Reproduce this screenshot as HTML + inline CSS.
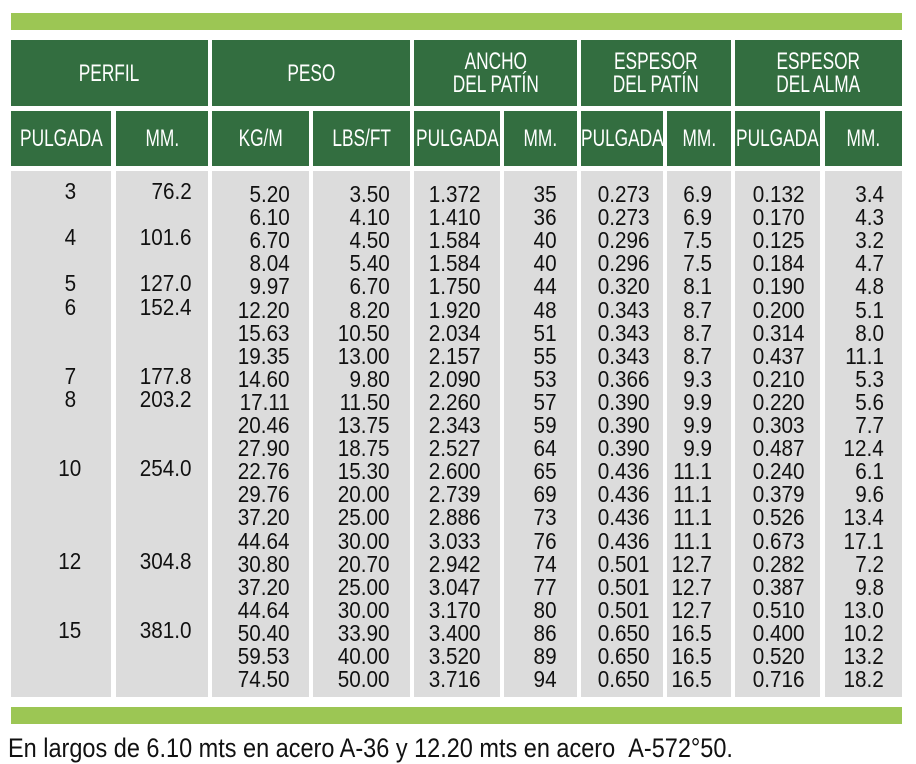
<!DOCTYPE html>
<html><head><meta charset="utf-8"><style>
body{margin:0;width:916px;height:762px;background:#fff;position:relative;overflow:hidden;font-family:"Liberation Sans",sans-serif}
.b{position:absolute}
.g{background:#336e40}
.l{background:#9cc654}
.c{background:#dcdcdc}
.h{position:absolute;color:#fff;font-size:24px;text-align:center;line-height:23px;display:flex;align-items:center;justify-content:center}
.h span{display:inline-block;transform:scaleX(.72)}
.t{position:absolute;font-size:23px;line-height:23px;color:#111;white-space:nowrap}
.t span{display:inline-block;transform:scaleX(.9)}
.r span{transform-origin:right center}
.ft{position:absolute;left:8px;top:733px;font-size:27px;color:#111;white-space:nowrap;transform:scaleX(.87);transform-origin:left center}
</style></head><body>
<div class="b l" style="left:11px;top:13px;width:891px;height:17px"></div>
<div class="b l" style="left:11px;top:707px;width:891px;height:17px"></div>
<div id="hdr"></div>
<div id="body"></div>
<div class="ft">En largos de 6.10 mts en acero A-36 y 12.20 mts en acero &nbsp;A-572°50.</div>
<script>
var cols=[[11,111],[116,208],[212,309],[313,410],[414,500],[504,577],[581,663],[667,731],[735,820],[825,902]];
var H='';
var top1=[[0,1,'PERFIL'],[2,3,'PESO'],[4,5,'ANCHO<br>DEL PATÍN'],[6,7,'ESPESOR<br>DEL PATÍN'],[8,9,'ESPESOR<br>DEL ALMA']];
top1.forEach(function(a){var x=cols[a[0]][0],w=cols[a[1]][1]-x;H+='<div class="b g" style="left:'+x+'px;top:40px;width:'+w+'px;height:66px"></div><div class="h" style="left:'+x+'px;top:40px;width:'+w+'px;height:66px"><span>'+a[2]+'</span></div>';});
var sub=['PULGADA','MM.','KG/M','LBS/FT','PULGADA','MM.','PULGADA','MM.','PULGADA','MM.'];
cols.forEach(function(c,i){var w=c[1]-c[0];H+='<div class="b g" style="left:'+c[0]+'px;top:111px;width:'+w+'px;height:55px"></div><div class="h" style="left:'+c[0]+'px;top:111px;width:'+w+'px;height:55px"><span>'+sub[i]+'</span></div><div class="b c" style="left:'+c[0]+'px;top:171px;width:'+w+'px;height:526px"></div>';});
document.getElementById('hdr').innerHTML=H;
var data=`5.20 3.50 1.372 35 0.273 6.9 0.132 3.4
6.10 4.10 1.410 36 0.273 6.9 0.170 4.3
6.70 4.50 1.584 40 0.296 7.5 0.125 3.2
8.04 5.40 1.584 40 0.296 7.5 0.184 4.7
9.97 6.70 1.750 44 0.320 8.1 0.190 4.8
12.20 8.20 1.920 48 0.343 8.7 0.200 5.1
15.63 10.50 2.034 51 0.343 8.7 0.314 8.0
19.35 13.00 2.157 55 0.343 8.7 0.437 11.1
14.60 9.80 2.090 53 0.366 9.3 0.210 5.3
17.11 11.50 2.260 57 0.390 9.9 0.220 5.6
20.46 13.75 2.343 59 0.390 9.9 0.303 7.7
27.90 18.75 2.527 64 0.390 9.9 0.487 12.4
22.76 15.30 2.600 65 0.436 11.1 0.240 6.1
29.76 20.00 2.739 69 0.436 11.1 0.379 9.6
37.20 25.00 2.886 73 0.436 11.1 0.526 13.4
44.64 30.00 3.033 76 0.436 11.1 0.673 17.1
30.80 20.70 2.942 74 0.501 12.7 0.282 7.2
37.20 25.00 3.047 77 0.501 12.7 0.387 9.8
44.64 30.00 3.170 80 0.501 12.7 0.510 13.0
50.40 33.90 3.400 86 0.650 16.5 0.400 10.2
59.53 40.00 3.520 89 0.650 16.5 0.520 13.2
74.50 50.00 3.716 94 0.650 16.5 0.716 18.2`.split('\n');
var rights=[290,390,481,557,650,712,805,884];
var perf={0:['3','76.2'],2:['4','101.6'],4:['5','127.0'],5:['6','152.4'],8:['7','177.8'],9:['8','203.2'],12:['10','254.0'],16:['12','304.8'],19:['15','381.0']};
var B='';
data.forEach(function(line,i){var y=183+i*23.1;var v=line.trim().split(' ');
v.forEach(function(s,j){B+='<div class="t r" style="right:'+(916-rights[j])+'px;top:'+y.toFixed(1)+'px"><span>'+s+'</span></div>';});
if(perf[i]){var yy=y-3;B+='<div class="t" style="left:40px;width:60px;text-align:center;top:'+yy.toFixed(1)+'px"><span>'+perf[i][0]+'</span></div><div class="t r" style="right:'+(916-192)+'px;top:'+yy.toFixed(1)+'px"><span>'+perf[i][1]+'</span></div>';}
});
document.getElementById('body').innerHTML=B;
</script>
</body></html>
